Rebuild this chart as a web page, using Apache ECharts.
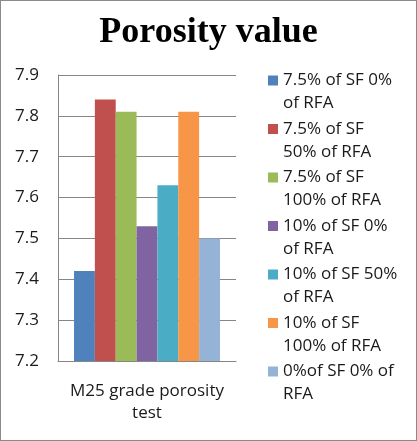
<!DOCTYPE html>
<html>
<head>
<meta charset="utf-8">
<script src="https://cdn.jsdelivr.net/npm/echarts@6/dist/echarts.min.js"></script>
<style>
  html, body { margin: 0; padding: 0; background: #fff; }
  #chart { width: 417px; height: 441px; box-sizing: border-box; border: 1px solid #8a8a8a; }
</style>
</head>
<body>
<div id="chart"></div>
<script>
const categories = ["M25 grade porosity\ntest"];
const seriesNames = [
  "7.5% of SF 0%\nof RFA",
  "7.5% of SF\n50% of RFA",
  "7.5% of SF\n100% of RFA",
  "10% of SF 0%\nof RFA",
  "10% of SF 50%\nof RFA",
  "10% of SF\n100% of RFA",
  "0%of SF 0% of\nRFA"
];
const seriesValues = [7.42, 7.84, 7.81, 7.53, 7.63, 7.81, 7.50];
const colors = ["#4F81BD", "#C0504D", "#9BBB59", "#8064A2", "#4BACC6", "#F79646", "#95B3D7"];
const yTicks = { min: 7.2, max: 7.9, step: 0.1 };

const chart = echarts.init(document.getElementById("chart"));

const series = seriesNames.map((name, i) => ({
  name: name,
  type: "bar",
  data: [seriesValues[i]],
  barGap: "0%",
  barCategoryGap: "18%",
  itemStyle: { color: colors[i] }
}));

chart.setOption({
  animation: false,
  color: colors,
  title: {
    text: "Porosity value",
    left: "center",
    top: 9,
    textStyle: {
      fontFamily: "Liberation Serif",
      fontWeight: "bold",
      fontSize: 36,
      color: "#000"
    }
  },
  legend: {
    orient: "vertical",
    left: 267,
    top: 45,
    padding: 0,
    itemWidth: 10,
    itemHeight: 10,
    itemGap: -20.5,
    icon: "rect",
    // leading blank line keeps the marker level with the first text line
    formatter: name => "\n" + name,
    textStyle: {
      fontFamily: "Open Sans",
      fontSize: 17,
      lineHeight: 23,
      color: "#1a1a1a"
    },
    data: seriesNames
  },
  grid: {
    left: 57,
    right: 180,
    top: 74,
    bottom: 79
  },
  xAxis: {
    type: "category",
    data: categories,
    axisLine: { lineStyle: { color: "#868686" } },
    axisTick: { show: false },
    axisLabel: {
      fontFamily: "Open Sans",
      fontSize: 17,
      lineHeight: 22,
      color: "#1a1a1a",
      margin: 19
    }
  },
  yAxis: {
    type: "value",
    min: yTicks.min,
    max: yTicks.max,
    interval: yTicks.step,
    axisLine: { show: true, lineStyle: { color: "#868686" } },
    axisTick: { show: false },
    splitLine: { lineStyle: { color: "#868686" } },
    axisLabel: {
      fontFamily: "Open Sans",
      fontSize: 17,
      color: "#1a1a1a",
      margin: 19,
      formatter: v => v.toFixed(1)
    }
  },
  series: series
});
</script>
</body>
</html>
